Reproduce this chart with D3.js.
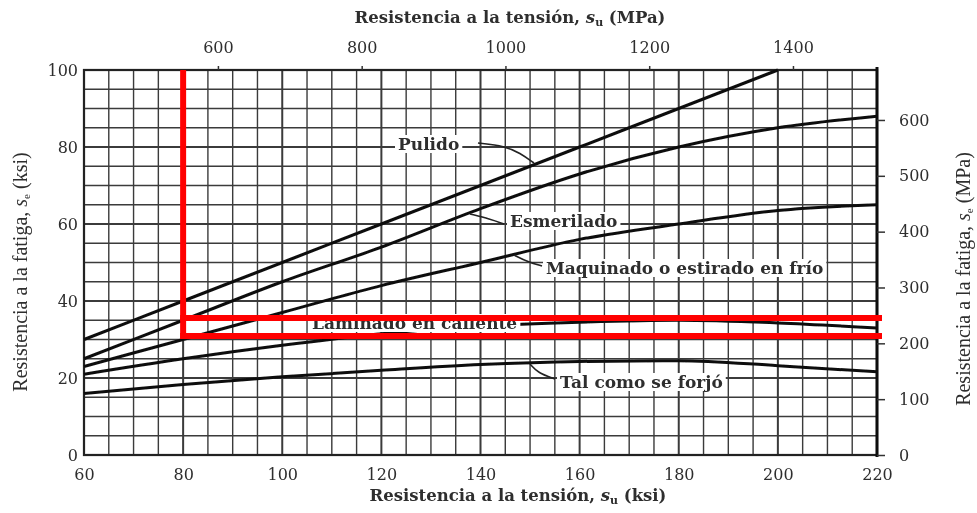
<!DOCTYPE html>
<html lang="es">
<head>
    <meta charset="UTF-8">
    <title>Resistencia a la fatiga vs resistencia a la tensión</title>
    <script src="https://d3js.org/d3.v7.min.js"></script>
    <style>
        body { margin: 0; background: #fff; }
        text { font-family: "DejaVu Serif", "Liberation Serif", serif; fill: #2e2e2e; }
        .tick-label { font-size: 16px; }
        .axis-title { font-size: 16.5px; font-weight: bold; }
        .axis-title.side { font-family: "Liberation Serif", serif; font-size: 20px; font-weight: normal; }
        .curve-label { font-size: 17px; font-weight: bold; }
    </style>
</head>
<body>
<div id="chart"></div>
<script>
    // ksi values
    const suKsi = [60, 80, 100, 120, 140, 160, 180, 200, 220];
    const pulido = [30, 40, 50, 60, 70, 80, 90, 100];          // stops at 200 ksi
    const esmerilado = [25, 35, 45, 54, 64, 73, 80, 85, 88];
    const maquinado = [23, 30, 37, 44, 50, 56, 60, 63.5, 65];
    const laminado = [21, 25, 28.5, 31.5, 33.5, 34.5, 35, 34.3, 33];
    const forjado = [16, 18.3, 20.3, 22, 23.5, 24.3, 24.5, 23.2, 21.6];

    const xTicksKsi = [60, 80, 100, 120, 140, 160, 180, 200, 220];
    const yTicksKsi = [0, 20, 40, 60, 80, 100];
    const xTicksMPa = [600, 800, 1000, 1200, 1400];
    const yTicksMPa = [0, 100, 200, 300, 400, 500, 600];
    const MPA_PER_KSI = 6.895;

    // red marks drawn over the chart (ksi)
    const redVerticalAt = 80;
    const redVerticalFrom = 30.9;
    const redHorizontals = [35.6, 30.9];

    const width = 977, height = 513;
    const svg = d3.select('#chart').append('svg')
        .attr('width', width).attr('height', height);

    // soft scan look
    svg.append('defs').append('filter').attr('id', 'soft')
        .append('feGaussianBlur').attr('stdDeviation', 0.55);
    const chart = svg.append('g').attr('filter', 'url(#soft)');

    const x = d3.scaleLinear().domain([60, 220]).range([84, 877]);
    const y = d3.scaleLinear().domain([0, 100]).range([455, 70]);
    const xM = d3.scaleLinear().domain([60 * MPA_PER_KSI, 220 * MPA_PER_KSI]).range(x.range());
    const yM = d3.scaleLinear().domain([0, 100 * MPA_PER_KSI]).range(y.range());

    // grid every 5 ksi
    const grid = chart.append('g').attr('stroke', '#3a3a3a').attr('fill', 'none');
    d3.range(60, 221, 5).forEach(v => {
        grid.append('line')
            .attr('x1', x(v)).attr('x2', x(v)).attr('y1', y(0)).attr('y2', y(100))
            .attr('stroke-width', v % 20 === 0 ? 2 : 1.4);
    });
    d3.range(0, 101, 5).forEach(v => {
        grid.append('line')
            .attr('x1', x(60)).attr('x2', x(220)).attr('y1', y(v)).attr('y2', y(v))
            .attr('stroke-width', v % 20 === 0 ? 2 : 1.4);
    });
    // frame
    chart.append('rect')
        .attr('x', x(60)).attr('y', y(100))
        .attr('width', x(220) - x(60)).attr('height', y(0) - y(100))
        .attr('fill', 'none').attr('stroke', '#222').attr('stroke-width', 2.2);
    chart.append('line')
        .attr('x1', x(220)).attr('x2', x(220)).attr('y1', y(100) - 3).attr('y2', y(0) + 2)
        .attr('stroke', '#111').attr('stroke-width', 3);

    // axes
    const fmt = d3.format('d');
    const axBottom = chart.append('g').attr('transform', `translate(0,${y(0)})`)
        .call(d3.axisBottom(x).tickValues(xTicksKsi).tickFormat(fmt).tickSize(0).tickPadding(11));
    const axLeft = chart.append('g').attr('transform', `translate(${x(60)},0)`)
        .call(d3.axisLeft(y).tickValues(yTicksKsi).tickFormat(fmt).tickSize(0).tickPadding(6));
    const axTop = chart.append('g').attr('transform', `translate(0,${y(100)})`)
        .call(d3.axisTop(xM).tickValues(xTicksMPa).tickFormat(fmt).tickSize(4).tickPadding(13));
    const axRight = chart.append('g').attr('transform', `translate(${x(220)},0)`)
        .call(d3.axisRight(yM).tickValues(yTicksMPa).tickFormat(fmt).tickSize(8).tickPadding(14));
    [axBottom, axLeft, axTop, axRight].forEach(g => {
        g.select('.domain').remove();
        g.selectAll('.tick line').attr('stroke', '#333').attr('stroke-width', 1.5);
        g.selectAll('.tick text').attr('class', 'tick-label')
            .attr('font-family', null).attr('font-size', null).attr('fill', '#2e2e2e');
    });
    axBottom.selectAll('.tick text').attr('dy', '0.9em');

    // axis titles
    function title(g, main, sub, unit) {
        const t = g.append('text').attr('class', 'axis-title').attr('text-anchor', 'middle');
        t.append('tspan').text(main);
        t.append('tspan').attr('font-style', 'italic').text('s');
        t.append('tspan').attr('font-size', '11px').attr('dy', 3).text(sub);
        t.append('tspan').attr('dy', -3).text(' ' + unit);
        return t;
    }
    title(chart, 'Resistencia a la tensión, ', 'u', '(MPa)').attr('x', 510).attr('y', 23);
    title(chart, 'Resistencia a la tensión, ', 'u', '(ksi)').attr('x', 518).attr('y', 501);
    title(chart.append('g').attr('transform', 'translate(27,272) rotate(-90)'),
        'Resistencia a la fatiga, ', 'e', '(ksi)').classed('side', true);
    title(chart.append('g').attr('transform', 'translate(970,279) rotate(-90)'),
        'Resistencia a la fatiga, ', 'e', '(MPa)').classed('side', true);

    // curves
    const line = d3.line().x(d => x(d[0])).y(d => y(d[1])).curve(d3.curveMonotoneX);
    [pulido, esmerilado, maquinado, laminado, forjado].forEach(s => {
        chart.append('path')
            .datum(s.map((v, i) => [suKsi[i], v]))
            .attr('d', line)
            .attr('fill', 'none').attr('stroke', '#111').attr('stroke-width', 3);
    });

    // curve labels with white backing
    const labels = [
        { text: 'Pulido', x: 398, y: 150 },
        { text: 'Esmerilado', x: 510, y: 227 },
        { text: 'Maquinado o estirado en frío', x: 546, y: 274 },
        { text: 'Laminado en caliente', x: 312, y: 329 },
        { text: 'Tal como se forjó', x: 560, y: 388 }
    ];
    labels.forEach(l => {
        const t = chart.append('text').attr('class', 'curve-label')
            .attr('x', l.x).attr('y', l.y).text(l.text);
        const b = t.node().getBBox();
        chart.insert('rect', function () { return t.node(); })
            .attr('x', b.x - 3).attr('y', b.y + 1).attr('width', b.width + 6).attr('height', b.height - 2)
            .attr('fill', '#fff');
    });

    // leader lines
    const leaders = [
        [[478, 143], [505, 146], [520, 153], [534, 163]],
        [[504, 224], [490, 219], [470, 214]],
        [[542, 266], [528, 262], [514, 255]],
        [[555, 379], [538, 373], [530, 364]]
    ];
    leaders.forEach(p => {
        chart.append('path').attr('d', d3.line().curve(d3.curveBasis)(p))
            .attr('fill', 'none').attr('stroke', '#222').attr('stroke-width', 1.6);
    });

    // red annotation (kept sharp)
    const red = svg.append('g').attr('stroke', '#ff0000').attr('stroke-width', 6).attr('fill', 'none');
    red.append('line')
        .attr('x1', x(redVerticalAt)).attr('x2', x(redVerticalAt))
        .attr('y1', y(100)).attr('y2', y(redVerticalFrom) + 3);
    redHorizontals.forEach(v => {
        red.append('line')
            .attr('x1', x(redVerticalAt) - 3).attr('x2', x(220) + 5)
            .attr('y1', y(v)).attr('y2', y(v));
    });
</script>
</body>
</html>
